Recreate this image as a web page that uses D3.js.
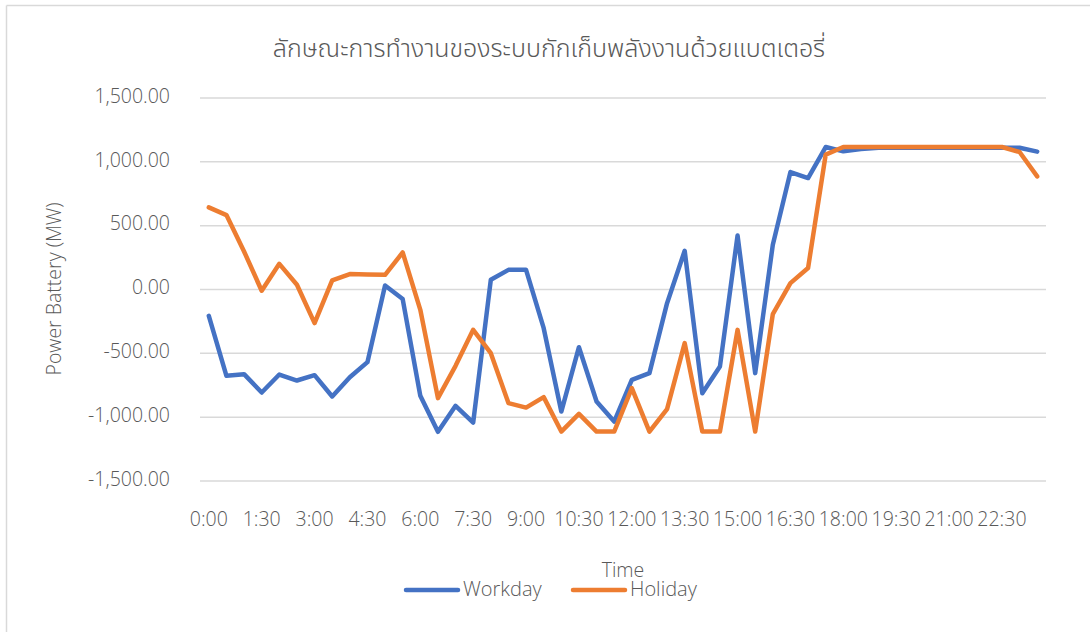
<!DOCTYPE html>
<html>
<head>
<meta charset="utf-8">
<script src="https://cdn.jsdelivr.net/npm/d3@7"></script>
<style>
  html, body { margin: 0; padding: 0; background: #fff; }
  svg { display: block; }
  text { font-family: "Open Sans", "Noto Sans", sans-serif; font-weight: 300; fill: #595959; }
</style>
</head>
<body>
<svg id="chart" width="1090" height="632"></svg>
<script>
// Half-hourly time slots, 0:00 .. 23:30
const times = [
  "0:00","0:30","1:00","1:30","2:00","2:30","3:00","3:30","4:00","4:30","5:00","5:30",
  "6:00","6:30","7:00","7:30","8:00","8:30","9:00","9:30","10:00","10:30","11:00","11:30",
  "12:00","12:30","13:00","13:30","14:00","14:30","15:00","15:30","16:00","16:30","17:00","17:30",
  "18:00","18:30","19:00","19:30","20:00","20:30","21:00","21:30","22:00","22:30","23:00","23:30"
];

// Battery power (MW), positive = charging
const workday = [
  -206, -676, -663, -807, -666, -713, -671, -838, -687, -569, 31, -75,
  -833, -1115, -911, -1042, 76, 154, 154, -303, -956, -452, -877, -1034,
  -708, -655, -107, 303, -812, -603, 423, -655, 350, 920, 873, 1116,
  1082, 1100, 1110, 1110, 1110, 1110, 1110, 1110, 1110, 1110, 1110, 1080
];
const holiday = [
  643, 583, 298, -10, 201, 37, -263, 71, 121, 118, 115, 290,
  -159, -851, -598, -316, -499, -890, -925, -843, -1113, -974, -1113, -1113,
  -773, -1113, -937, -420, -1113, -1113, -316, -1113, -193, 50, 168, 1056,
  1116, 1116, 1116, 1116, 1116, 1116, 1116, 1116, 1116, 1116, 1077, 886
];

const yTicks = [-1500, -1000, -500, 0, 500, 1000, 1500];
const xTickLabels = times.filter((d, i) => i % 3 === 0);

const seriesList = [
  { name: "Workday", values: workday, color: "#4472C4" },
  { name: "Holiday", values: holiday, color: "#ED7D31" }
];

const titleText = "ลักษณะการทำงานของระบบกักเก็บพลังงานด้วยแบตเตอรี่";
const yTitle = "Power Battery (MW)";
const xTitle = "Time";

const svg = d3.select("#chart");

// outer chart frame (only top and left edges fall inside the canvas)
svg.append("line").attr("x1", 6.5).attr("x2", 1090).attr("y1", 5.5).attr("y2", 5.5)
  .attr("stroke", "#d9d9d9").attr("stroke-width", 1.5);
svg.append("line").attr("x1", 6.5).attr("x2", 6.5).attr("y1", 5.5).attr("y2", 632)
  .attr("stroke", "#d9d9d9").attr("stroke-width", 1.5);

const plot = { left: 200, right: 1046, top: 98, bottom: 481 };

const x = d3.scaleBand().domain(times).range([plot.left, plot.right]).paddingInner(0).paddingOuter(0);
const y = d3.scaleLinear().domain([-1500, 1500]).range([plot.bottom, plot.top]);
const xc = d => x(d) + x.bandwidth() / 2;

// horizontal gridlines
svg.append("g")
  .selectAll("line")
  .data(yTicks)
  .join("line")
  .attr("x1", plot.left).attr("x2", plot.right)
  .attr("y1", d => y(d)).attr("y2", d => y(d))
  .attr("stroke", "#d9d9d9").attr("stroke-width", 1.5);

const labelFont = '"Open Sans", "Noto Sans", sans-serif';

// y axis labels, plain hyphen for negatives
const locale = d3.formatLocale({ decimal: ".", thousands: ",", grouping: [3], currency: ["", ""], minus: "-" });
const fmt = locale.format(",.2f");
const yAxis = d3.axisLeft(y).tickValues(yTicks).tickFormat(fmt).tickSize(0).tickPadding(0);
const gy = svg.append("g").attr("transform", "translate(170,-2)").call(yAxis);
gy.select(".domain").remove();
gy.selectAll("text").style("font-size", "19.5px").style("font-weight", 300)
  .attr("fill", "#595959").style("font-family", labelFont);

// x axis labels
const xAxis = d3.axisBottom(x).tickValues(xTickLabels).tickSize(0).tickPadding(0);
const gx = svg.append("g").attr("transform", "translate(0,512)").call(xAxis);
gx.select(".domain").remove();
gx.selectAll("text").style("font-size", "19.5px").style("font-weight", 300)
  .attr("fill", "#595959").style("font-family", labelFont);

// series lines
const line = d3.line()
  .x((d, i) => xc(times[i]))
  .y(d => y(d));

svg.append("g")
  .selectAll("path")
  .data(seriesList)
  .join("path")
  .attr("d", s => line(s.values))
  .attr("fill", "none")
  .attr("stroke", s => s.color)
  .attr("stroke-width", 4.5)
  .attr("stroke-linejoin", "round")
  .attr("stroke-linecap", "round");

// title
svg.append("text")
  .attr("x", 549).attr("y", 57)
  .attr("text-anchor", "middle")
  .style("font-size", "25px")
  .style("font-weight", 300)
  .style("font-family", '"Noto Sans Thai", "Noto Sans Thai Looped", "Noto Sans", sans-serif')
  .text(titleText);

// axis titles
svg.append("text")
  .attr("transform", "translate(61,289) rotate(-90)")
  .attr("text-anchor", "middle")
  .style("font-size", "19.5px")
  .text(yTitle);

svg.append("text")
  .attr("x", 623).attr("y", 577)
  .attr("text-anchor", "middle")
  .style("font-size", "19.5px")
  .text(xTitle);

// legend
const legendItems = [
  { x: 404, tx: 463 },
  { x: 571, tx: 630 }
];
const lg = svg.append("g");
seriesList.forEach((s, i) => {
  const p = legendItems[i];
  lg.append("line")
    .attr("x1", p.x + 2).attr("x2", p.x + 54)
    .attr("y1", 590).attr("y2", 590)
    .attr("stroke", s.color).attr("stroke-width", 4.5).attr("stroke-linecap", "round");
  lg.append("text")
    .attr("x", p.tx).attr("y", 596)
    .style("font-size", "20px")
    .text(s.name);
});
</script>
</body>
</html>
